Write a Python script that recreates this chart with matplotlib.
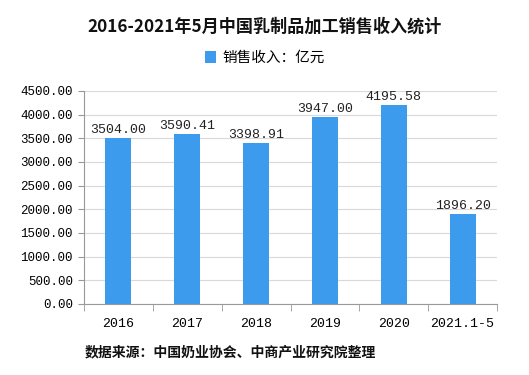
import numpy as np
import matplotlib
matplotlib.use('Agg')
from matplotlib import pyplot as plt

plt.rcParams['font.family'] = ['Noto Sans CJK SC', 'DejaVu Sans']

years = ['2016', '2017', '2018', '2019', '2020', '2021.1-5']
revenue = [3504.00, 3590.41, 3398.91, 3947.00, 4195.58, 1896.20]
yticks = np.arange(0, 4501, 500)

mono = 'Liberation Mono'

fig = plt.figure(figsize=(5.29, 3.75), dpi=100)
ax = fig.add_axes([84 / 529, 1 - 304 / 375, 413 / 529, 213 / 375])

x = np.arange(len(years))
ax.bar(x, revenue, width=0.38, color='#3D9BEE', zorder=3, label='销售收入：亿元')
for xi, v in zip(x, revenue):
    ax.text(xi, v + 50, '%.2f' % v, ha='center', va='bottom', fontsize=9.5,
            family=mono, color='#222222')

ax.set_xlim(-0.5, len(years) - 0.5)
ax.set_ylim(0, 4500)
ax.set_yticks(yticks)
ax.set_yticklabels(['%.2f' % t for t in yticks], fontsize=9, family=mono)
ax.yaxis.grid(True, color='#D9D9D9', linewidth=0.8, zorder=0)

ax.set_xticks(x)
ax.set_xticklabels(years, fontsize=9.5, family=mono)
ax.tick_params(axis='x', length=0, pad=10)
ax.set_xticks(np.arange(-0.5, len(years)), minor=True)
ax.tick_params(axis='x', which='minor', length=5, color='#999999')
ax.tick_params(axis='y', length=4, color='#999999', pad=4)

for s in ['top', 'right']:
    ax.spines[s].set_visible(False)
ax.spines['left'].set_color('#999999')
ax.spines['bottom'].set_color('#999999')

fig.text(0.5, 1 - 27 / 375, '2016-2021年5月中国乳制品加工销售收入统计', ha='center', va='center',
         fontsize=12.3, fontweight='bold', color='#111111')
ax.legend(loc='center', bbox_to_anchor=(0.5, (375 - 58) / 375), bbox_transform=fig.transFigure,
          frameon=False, fontsize=10.5, handlelength=0.8, handleheight=0.8, handletextpad=0.4)
fig.text(85 / 529, 1 - 352 / 375, '数据来源：中国奶业协会、中商产业研究院整理', ha='left', va='center',
         fontsize=10, fontweight='bold', color='#111111')

fig.savefig('out.png', dpi=100)
